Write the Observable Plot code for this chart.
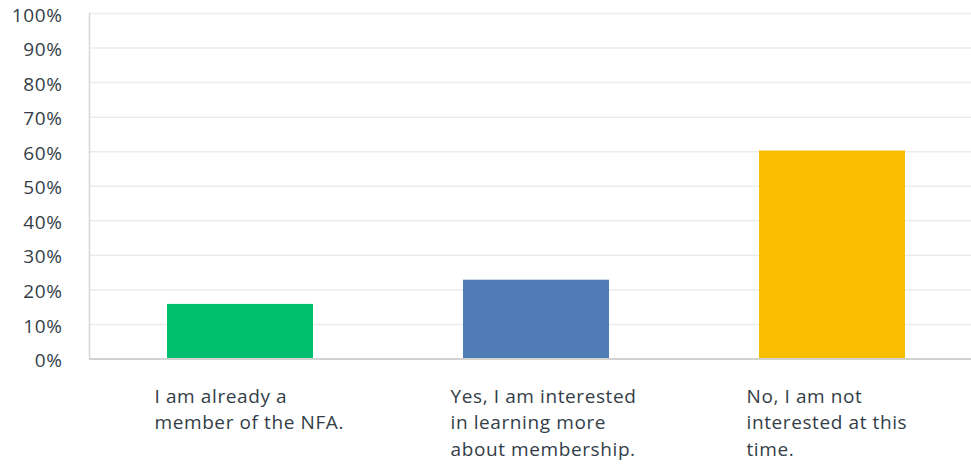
<!DOCTYPE html>
<html>
<head>
<meta charset="utf-8">
<script src="https://cdn.jsdelivr.net/npm/d3@7"></script>
<script src="https://cdn.jsdelivr.net/npm/@observablehq/plot@0.6"></script>
<style>
  html, body { margin: 0; padding: 0; background: #fff; }
  svg text { letter-spacing: 0.6px; }
</style>
</head>
<body>
<div id="chart"></div>
<script>
const categories = [
  "I am already a member of the NFA.",
  "Yes, I am interested in learning more about membership.",
  "No, I am not interested at this time."
];
const tickLabels = [
  "I am already a\nmember of the NFA.",
  "Yes, I am interested\nin learning more\nabout membership.",
  "No, I am not\ninterested at this\ntime."
];
const values = [15.8, 22.8, 60.2];
const colors = ["#00bf6f", "#507cb6", "#f9be00"];
const yTicks = [0, 10, 20, 30, 40, 50, 60, 70, 80, 90, 100];

const data = categories.map((c, i) => ({category: c, value: values[i], color: colors[i]}));
const textColor = "#333e48";
const font = "'Open Sans', sans-serif";

const chart = Plot.plot({
  width: 971,
  height: 469,
  marginLeft: 89,
  marginRight: 0,
  marginTop: 13,
  marginBottom: 110.5,
  style: {fontFamily: font, fontSize: "19px", color: textColor, background: "#fff"},
  x: {domain: categories, range: [90.75, 980], paddingInner: 0.508, paddingOuter: 0.254, axis: null},
  y: {domain: [0, 100], axis: null},
  color: {type: "identity"},
  marks: [
    Plot.gridY(yTicks, {stroke: "#ebebeb", strokeOpacity: 1, strokeWidth: 1.5}),
    Plot.frame({anchor: "left", stroke: "#d6d6d6", strokeWidth: 1.5}),
    Plot.barY(data, {x: "category", y: "value", fill: "color"}),
    Plot.ruleY([0], {stroke: "#d2d2d2", strokeWidth: 2}),
    Plot.axisY(yTicks, {tickSize: 0, tickPadding: 27, tickFormat: d => d + "%", fontSize: 19, fill: textColor, dy: 2, label: null}),
    Plot.axisX(categories, {
      tickSize: 0, tickPadding: 25,
      tickFormat: d => tickLabels[categories.indexOf(d)],
      textAnchor: "start", dx: -86, lineHeight: 1.4, fontSize: 19, fill: textColor, label: null
    })
  ]
});
document.getElementById("chart").appendChild(chart);
</script>
</body>
</html>
